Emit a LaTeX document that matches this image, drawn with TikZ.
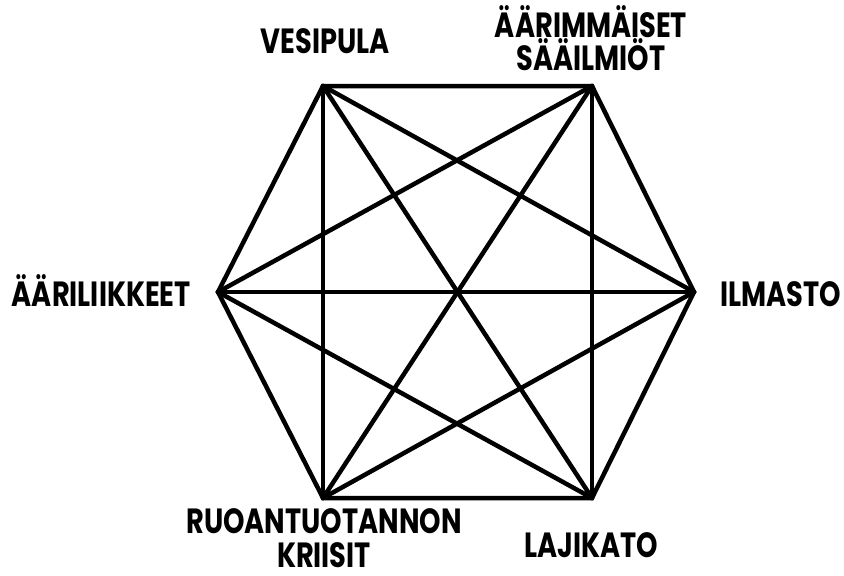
\documentclass[tikz,border=0pt]{standalone}
\usepackage{fontspec}
\setmainfont{Poppins}[FakeStretch=0.78]
\begin{document}
\begin{tikzpicture}[x=1pt,y=-1pt,
  lbl/.style={font=\fontsize{35}{38}\selectfont\bfseries, inner sep=0pt, align=center, text=black},
  edge/.style={line width=4.5pt, black, line cap=round}]
\useasboundingbox (0,0) rectangle (844,576);
\coordinate (A) at (323,86);
\coordinate (B) at (592,86);
\coordinate (C) at (694,292);
\coordinate (D) at (592,498);
\coordinate (E) at (323,498);
\coordinate (F) at (218,292);
\draw[line width=4.5pt, line join=miter] (A) -- (B) -- (C) -- (D) -- (E) -- (F) -- cycle;
\foreach \p/\q in {A/C,A/D,A/E,B/D,B/E,B/F,C/E,C/F,D/F}
  \draw[edge] (\p) -- (\q);
\node[lbl, anchor=base] (vesi) at (325,53) {VESIPULA};
\node[lbl, anchor=base] (saa) at (591,70) {ÄÄRIMMÄISET\\[-5pt]SÄÄILMIÖT};
\node[lbl, anchor=base west] (ilm) at (720,306) {ILMASTO};
\node[lbl, anchor=base east] (aari) at (191,306) {ÄÄRILIIKKEET};
\node[lbl, anchor=base] (laji) at (591,557) {LAJIKATO};
\node[lbl, anchor=base] (ruoka) at (324,567) {RUOANTUOTANNON\\[-4pt]KRIISIT};
\end{tikzpicture}
\end{document}
